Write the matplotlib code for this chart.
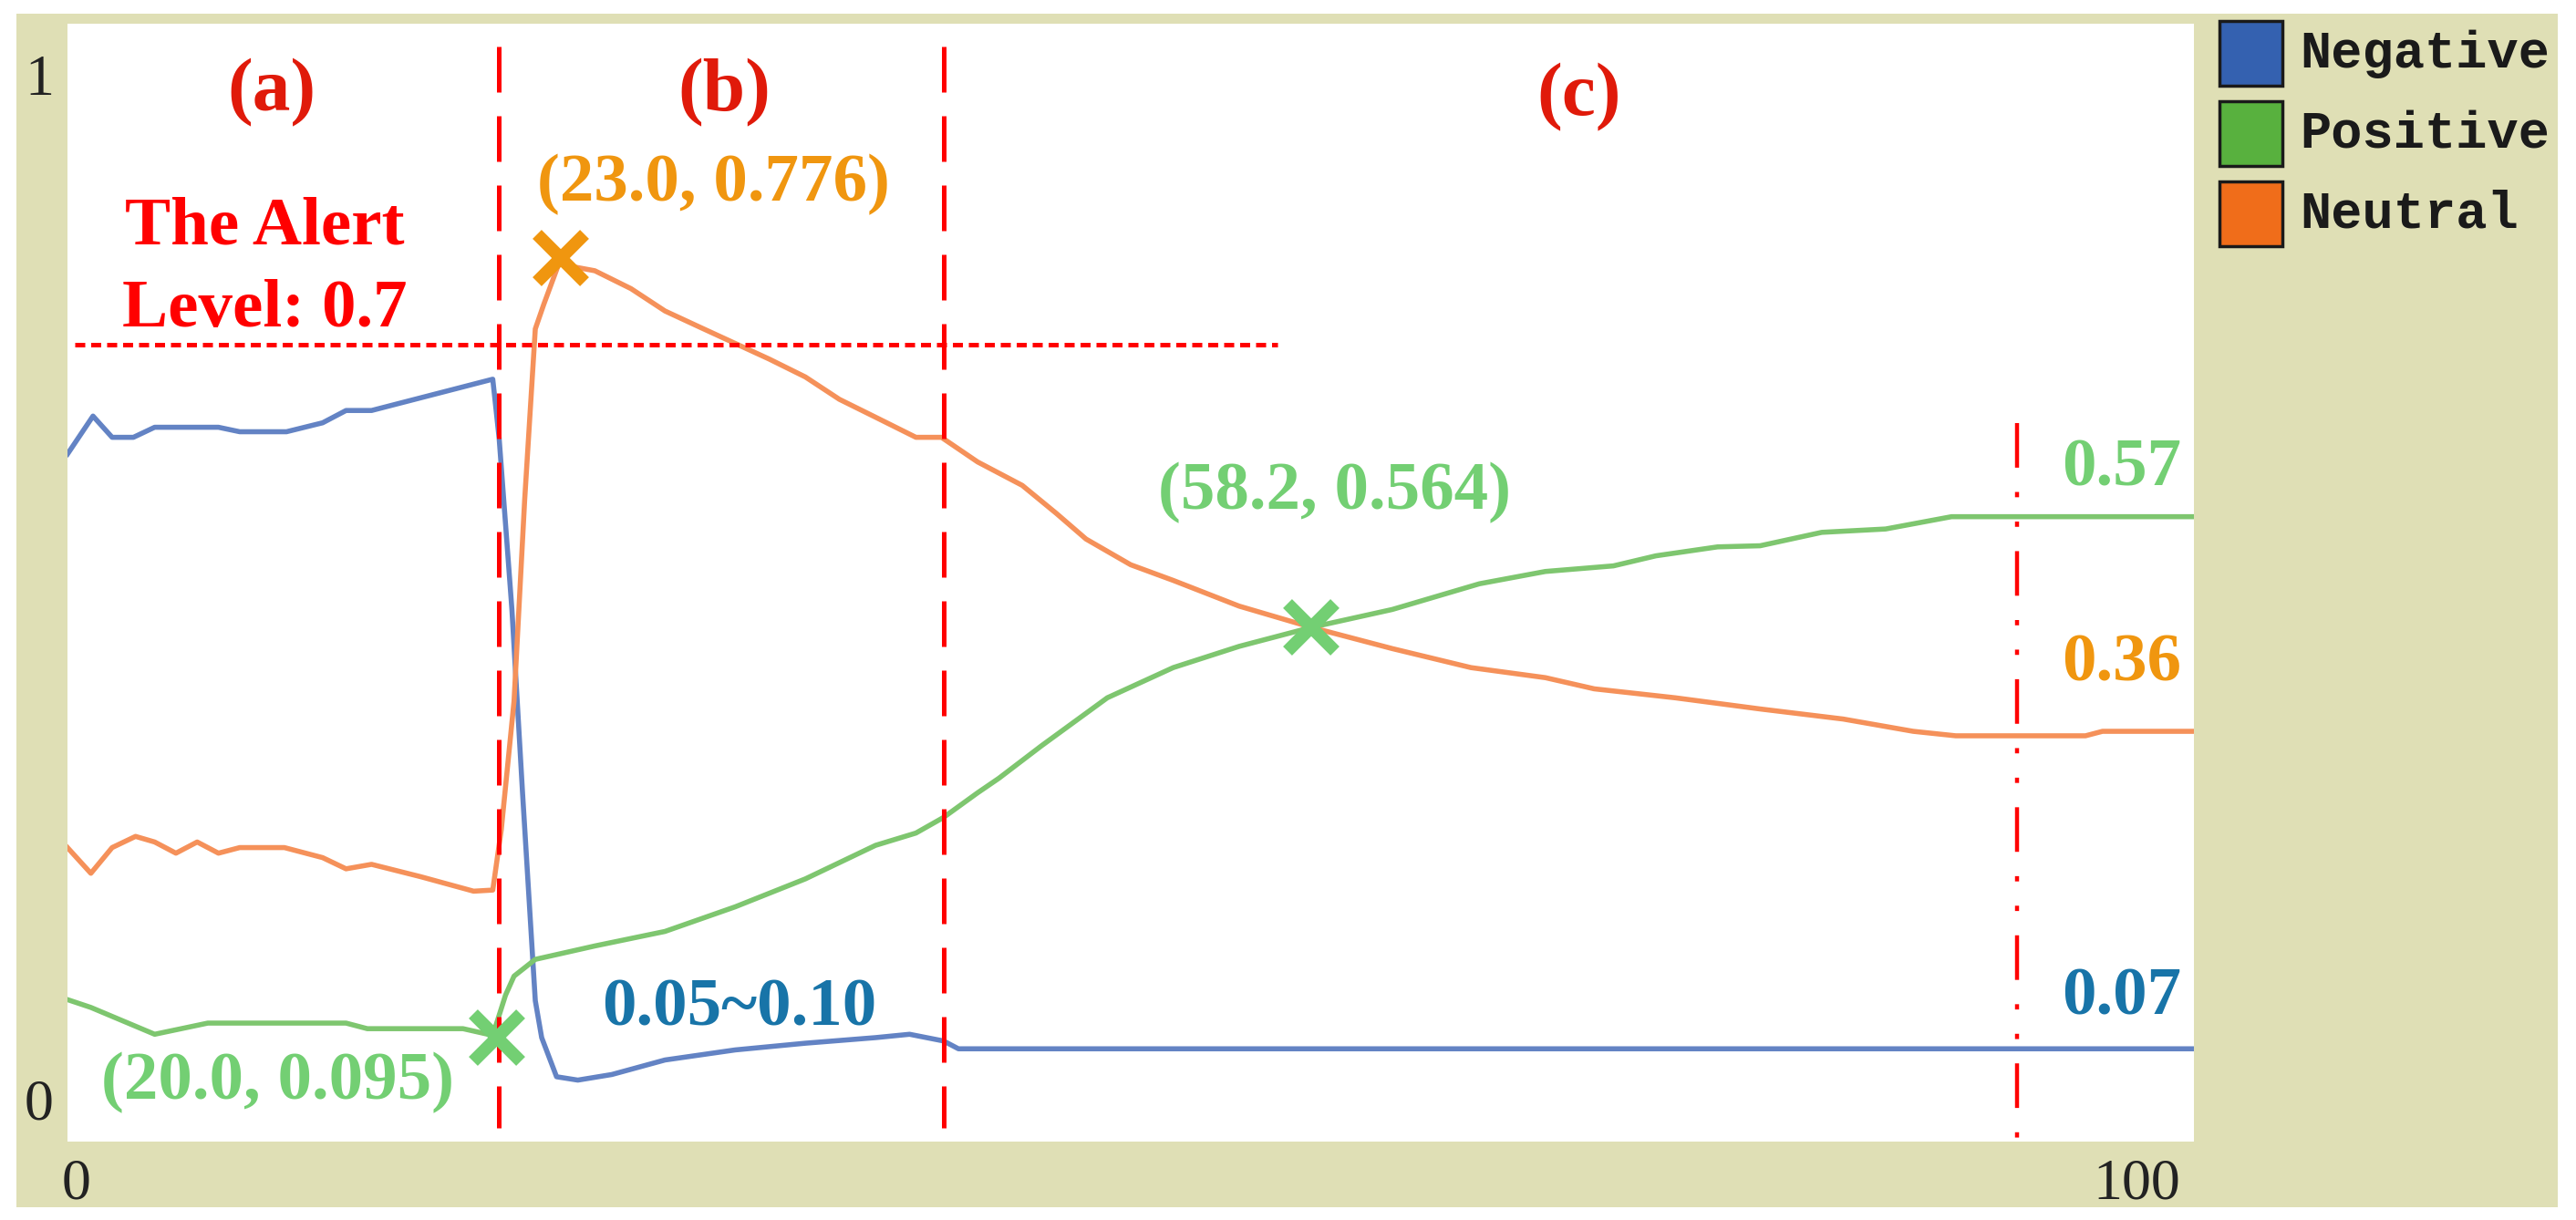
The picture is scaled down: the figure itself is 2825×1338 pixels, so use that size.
#!/usr/bin/env python3
"""
plot.py - sentiment shares (Negative / Positive / Neutral) over 0-100 ticks,
drawn in the style of a NetLogo plot widget, with the three phases (a), (b), (c)
and the alert level marked by hand.

Writes out.png (2825 x 1338 px).
"""
from __future__ import annotations

import matplotlib
matplotlib.use("Agg")
import matplotlib.pyplot as plt
from matplotlib.patches import Rectangle


# ---- data ------------------------------------------------------------------
series_names = ["Negative", "Positive", "Neutral"]

neg_x = [0, 1.2, 2.1, 3.1, 4.1, 7.1, 8.1, 10.3, 12.0, 13.1, 14.3, 20.0, 20.3,
         20.9, 21.4, 22.0, 22.3, 23.0, 24.0, 25.6, 28.1, 31.4, 34.7, 38.0,
         39.6, 41.2, 41.9, 100]
neg_y = [0.615, 0.649, 0.630, 0.630, 0.639, 0.639, 0.635, 0.635, 0.643, 0.654,
         0.654, 0.682, 0.629, 0.476, 0.312, 0.126, 0.093, 0.058, 0.055, 0.060,
         0.073, 0.082, 0.088, 0.093, 0.096, 0.090, 0.083, 0.083]

pos_x = [0, 1.1, 4.1, 6.6, 13.1, 14.1, 18.6, 20.0, 20.6, 21.0, 22.0, 24.8,
         28.1, 31.4, 34.7, 38.0, 39.9, 41.2, 42.8, 43.8, 45.8, 48.9, 52.0,
         55.1, 58.5, 62.3, 66.4, 69.5, 72.7, 74.7, 77.6, 79.6, 82.5, 85.5,
         88.6, 100]
pos_y = [0.127, 0.120, 0.096, 0.106, 0.106, 0.101, 0.101, 0.095, 0.131, 0.148,
         0.163, 0.175, 0.188, 0.210, 0.235, 0.265, 0.276, 0.290, 0.312, 0.325,
         0.354, 0.397, 0.424, 0.443, 0.460, 0.476, 0.499, 0.510, 0.515, 0.524,
         0.532, 0.533, 0.545, 0.548, 0.559, 0.559]

neu_x = [0, 1.1, 2.1, 3.2, 4.1, 5.1, 6.1, 7.1, 8.1, 10.2, 12.0, 13.1, 14.3,
         16.6, 19.1, 20.0, 20.4, 21.0, 21.5, 22.0, 22.4, 23.1, 24.8, 26.5,
         28.1, 29.8, 31.4, 33.0, 34.7, 36.3, 38.0, 39.9, 41.1, 42.8, 44.9,
         46.5, 47.9, 50.0, 52.0, 55.1, 58.5, 62.3, 66.0, 69.5, 71.8, 75.6,
         79.6, 83.5, 86.8, 88.8, 94.9, 95.7, 100]
neu_y = [0.263, 0.240, 0.263, 0.273, 0.268, 0.258, 0.268, 0.258, 0.263, 0.263,
         0.254, 0.244, 0.248, 0.237, 0.224, 0.225, 0.279, 0.394, 0.574, 0.727,
         0.749, 0.785, 0.779, 0.763, 0.743, 0.728, 0.714, 0.700, 0.684, 0.664,
         0.648, 0.630, 0.630, 0.608, 0.587, 0.562, 0.539, 0.516, 0.502, 0.479,
         0.460, 0.441, 0.424, 0.415, 0.405, 0.397, 0.387, 0.378, 0.367, 0.363,
         0.363, 0.367, 0.367]

# phase boundaries and the alert level
phase_x = [20.3, 41.2]
end_x = 91.7
alert_level = 0.713

# crossing / peak markers
mark_x = [20.2, 23.2, 58.5]
mark_y = [0.093, 0.790, 0.460]

# ---- styling ---------------------------------------------------------------
W, H = 2825, 1338
BEIGE = "#dfdfb5"
LINE_COLORS = ["#6383c4", "#7ec66f", "#f5915a"]
KEY_COLORS = ["#3461b0", "#58b13e", "#f06d1a"]
RED = "#ff0000"
DARK_RED = "#e01a0a"
ORANGE_TXT = "#f0960f"
GREEN_TXT = "#73cf73"
BLUE_TXT = "#1874a8"
SERIF = "Liberation Serif"


def fx(x):
    return x / W


def fy(y):
    # y measured from the top of the picture
    return 1 - y / H


def main() -> int:
    fig = plt.figure(figsize=(W / 100, H / 100), dpi=100, facecolor="white")

    # beige NetLogo widget background, kept below the axes
    fig.patches.append(Rectangle((fx(18), fy(1324)), fx(2805 - 18), (1324 - 15) / H,
                                 transform=fig.transFigure, facecolor=BEIGE,
                                 edgecolor="none", zorder=-5))

    left, right, top, bottom = 74, 2406, 26, 1252
    ax = fig.add_axes([fx(left), fy(bottom), fx(right - left), (bottom - top) / H])
    ax.set_zorder(1)
    ax.set_facecolor("white")
    ax.set_xlim(0, 100)
    ax.set_ylim(0, 1)
    ax.set_xticks([])
    ax.set_yticks([])
    for s in ax.spines.values():
        s.set_visible(False)

    for xs, ys, c in zip([neg_x, pos_x, neu_x], [neg_y, pos_y, neu_y], LINE_COLORS):
        ax.plot(xs, ys, color=c, linewidth=4, solid_joinstyle="round", zorder=2)

    # phase boundaries, alert level, end-of-run marker
    for px in phase_x:
        ax.plot([px, px], [0.98, 0.012], color=RED, linewidth=3.6,
                dashes=(10, 5.2), zorder=3)
    ax.plot([0.34, 56.9], [alert_level, alert_level], color=RED, linewidth=3.6,
            dashes=(2.2, 1.3), zorder=3)
    ax.plot([end_x, end_x], [0.643, -0.012], color=RED, linewidth=3.2,
            dashes=(11, 6, 1.3, 6, 1.3, 6), zorder=3, clip_on=False)

    # markers
    mark_colors = [GREEN_TXT, ORANGE_TXT, GREEN_TXT]
    for mx, my, mc in zip(mark_x, mark_y, mark_colors):
        ax.plot(mx, my, marker="x", markersize=38, markeredgewidth=10,
                color=mc, linestyle="none", zorder=5)

    big = dict(family=SERIF, fontweight="bold", ha="center", va="baseline")
    for label, x, y in [("(a)", 9.6, 0.922), ("(b)", 30.9, 0.922), ("(c)", 71.1, 0.918)]:
        ax.text(x, y, label, color=DARK_RED, fontsize=60, **big)
    ax.text(9.26, 0.803, "The Alert", color=RED, fontsize=54, **big)
    ax.text(9.26, 0.729, "Level: 0.7", color=RED, fontsize=54, **big)
    ax.text(30.4, 0.842, "(23.0, 0.776)", color=ORANGE_TXT, fontsize=54, **big)
    ax.text(9.9, 0.038, "(20.0, 0.095)", color=GREEN_TXT, fontsize=54, **big)
    ax.text(31.6, 0.104, "0.05~0.10", color=BLUE_TXT, fontsize=54, **big)
    ax.text(59.6, 0.566, "(58.2, 0.564)", color=GREEN_TXT, fontsize=54, **big)
    ax.text(96.6, 0.5865, "0.57", color=GREEN_TXT, fontsize=54, **big)
    ax.text(96.6, 0.412, "0.36", color=ORANGE_TXT, fontsize=54, **big)
    ax.text(96.6, 0.114, "0.07", color=BLUE_TXT, fontsize=54, **big)

    # axis min/max labels, NetLogo style
    tick = dict(family=SERIF, fontsize=46, color="#222222", ha="center", va="center")
    ax.text(-0.0133, 0.949, "1", transform=ax.transAxes, clip_on=False, **tick)
    ax.text(-0.0133, 0.032, "0", transform=ax.transAxes, clip_on=False, **tick)
    ax.text(0.39, -0.039, "0", transform=ax.get_xaxis_transform(), clip_on=False, **tick)
    ax.text(97.3, -0.039, "100", transform=ax.get_xaxis_transform(), clip_on=False, **tick)

    # legend: coloured squares + monospace names
    key_top = [23, 111, 199]
    for name, c, yt in zip(series_names, KEY_COLORS, key_top):
        fig.patches.append(Rectangle((fx(2434), fy(yt + 71)), fx(69), 71 / H,
                                     transform=fig.transFigure, facecolor=c,
                                     edgecolor="#1a1a1a", linewidth=2.5, zorder=3))
        fig.text(fx(2522), fy(yt + 36), name, family="Liberation Mono",
                 fontweight="bold", fontsize=41, color="#1a1a1a",
                 ha="left", va="center")

    fig.savefig("out.png", dpi=100, facecolor="white")
    plt.close(fig)
    return 0


if __name__ == "__main__":
    raise SystemExit(main())
